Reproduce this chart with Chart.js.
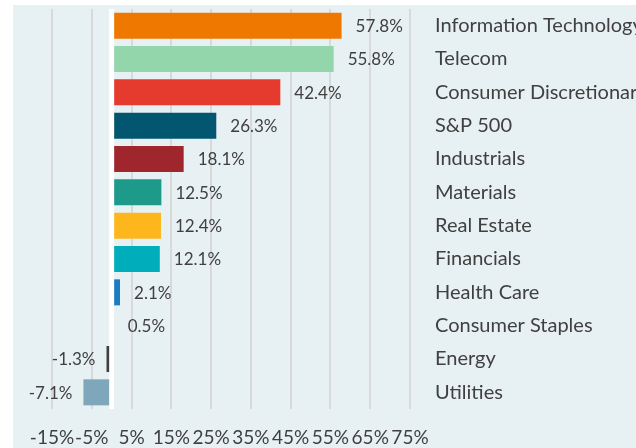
<!DOCTYPE html>
<html>
<head>
<meta charset="utf-8">
<script src="https://cdn.jsdelivr.net/npm/chart.js@4"></script>
<style>
  html, body { margin: 0; padding: 0; background: #ffffff; }
  #wrap { width: 636px; height: 448px; }
</style>
</head>
<body>
<div id="wrap"><canvas id="sectorChart" width="636" height="448"></canvas></div>
<script>
const sectors = ['Information Technology', 'Telecom', 'Consumer Discretionary', 'S&P 500', 'Industrials', 'Materials', 'Real Estate', 'Financials', 'Health Care', 'Consumer Staples', 'Energy', 'Utilities'];
const returns = [57.8, 55.8, 42.4, 26.3, 18.1, 12.5, 12.4, 12.1, 2.1, 0.5, -1.3, -7.1];
const barColors = ['#ef7800', '#93d6ac', '#e53b2f', '#03566f', '#a0262e', '#1e9a8a', '#fdb71c', '#00adba', '#1a7cc0', '#7fa7bc', '#404040', '#7fa7bc'];
const xTicks = [-15, -5, 5, 15, 25, 35, 45, 55, 65, 75];

const FONT = 'Lato, "Open Sans", sans-serif';

// panel background behind the plot
const panelBg = {
    id: 'panelBg',
    beforeDraw(chart) {
        const { ctx, chartArea } = chart;
        ctx.save();
        ctx.fillStyle = '#e7f0f3';
        ctx.fillRect(chartArea.left - 39, chartArea.top - 4, chart.width, chart.height);
        ctx.restore();
    }
};

// white line at zero and value labels
const extras = {
    id: 'extras',
    afterDatasetsDraw(chart) {
        const { ctx, chartArea } = chart;
        const x0 = chart.scales.x.getPixelForValue(0);
        ctx.save();
        ctx.strokeStyle = '#ffffff';
        ctx.lineWidth = 5;
        ctx.beginPath();
        ctx.moveTo(x0, chartArea.top);
        ctx.lineTo(x0, chartArea.bottom);
        ctx.stroke();

        const meta = chart.getDatasetMeta(0);
        ctx.font = '17px ' + FONT;
        ctx.fillStyle = '#404040';
        ctx.textBaseline = 'middle';
        meta.data.forEach((bar, i) => {
            const v = returns[i];
            const txt = v.toFixed(1) + '%';
            if (v >= 0) {
                ctx.textAlign = 'left';
                ctx.fillText(txt, bar.x + 14, bar.y + 1);
            } else {
                ctx.textAlign = 'right';
                ctx.fillText(txt, bar.x - 11, bar.y + 1);
            }
        });
        ctx.restore();
    }
};

new Chart(document.getElementById('sectorChart'), {
    type: 'bar',
    data: {
        labels: sectors,
        datasets: [{
            data: returns,
            backgroundColor: barColors,
            borderWidth: 0,
            barPercentage: 0.78,
            categoryPercentage: 1
        }]
    },
    options: {
        indexAxis: 'y',
        responsive: false,
        animation: false,
        layout: { padding: { left: 52, top: 9, right: 0, bottom: 0 } },
        scales: {
            x: {
                min: -15,
                max: 75,
                afterBuildTicks: scale => { scale.ticks = xTicks.map(v => ({ value: v })); },
                afterFit: scale => {
                    scale.height = 39;
                    scale.paddingLeft = 0;
                    scale.paddingRight = 0;
                },
                grid: { color: '#d9d9d9', lineWidth: 2, drawTicks: false },
                border: { display: false },
                ticks: {
                    padding: 17,
                    color: '#404040',
                    font: { family: FONT, size: 19 },
                    callback: v => v + '%',
                    maxRotation: 0,
                    autoSkip: false
                }
            },
            y: {
                position: 'right',
                afterFit: scale => {
                    scale.width = 226;
                    scale.paddingTop = 0;
                    scale.paddingBottom = 0;
                },
                grid: { display: false, drawTicks: false },
                border: { display: false },
                ticks: {
                    padding: 25,
                    color: '#404040',
                    font: { family: FONT, size: 20 },
                    autoSkip: false
                }
            }
        },
        plugins: {
            legend: { display: false },
            tooltip: { enabled: false }
        }
    },
    plugins: [panelBg, extras]
});
</script>
</body>
</html>
